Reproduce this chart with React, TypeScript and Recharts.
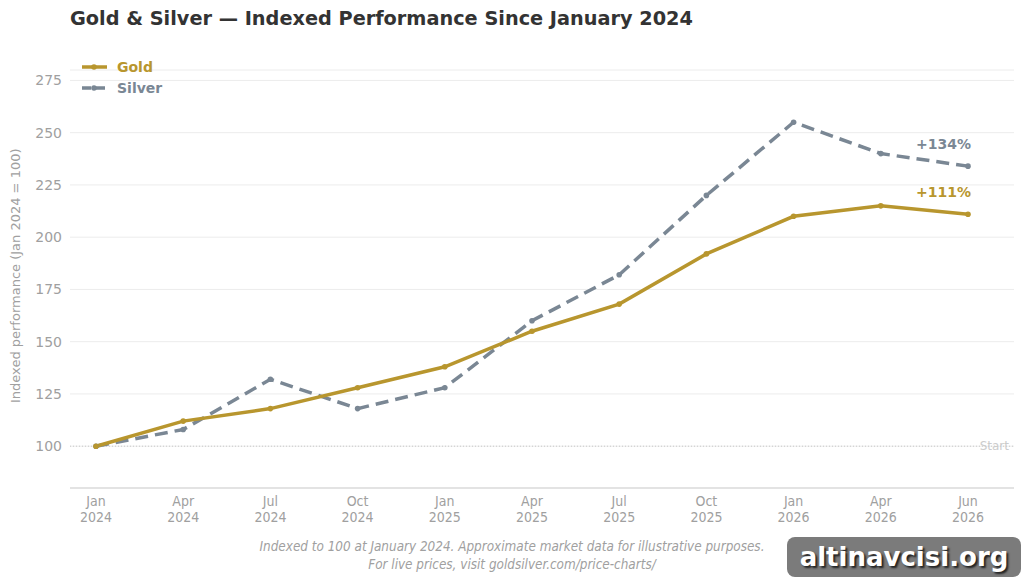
import React from "react";
import {
  LineChart,
  Line,
  XAxis,
  YAxis,
  CartesianGrid,
  ReferenceLine,
  LabelList,
} from "recharts";

const categories = [
  "Jan 2024", "Apr 2024", "Jul 2024", "Oct 2024", "Jan 2025", "Apr 2025",
  "Jul 2025", "Oct 2025", "Jan 2026", "Apr 2026", "Jun 2026",
];
const goldValues = [100, 112, 118, 128, 138, 155, 168, 192, 210, 215, 211];
const silverValues = [100, 108, 132, 118, 128, 160, 182, 220, 255, 240, 234];
const yTicks = [100, 125, 150, 175, 200, 225, 250, 275];
const seriesNames = ["Gold", "Silver"];

const GOLD = "#B8962E";
const SILVER = "#7A8794";

const data = categories.map((c, i) => ({
  month: c,
  gold: goldValues[i],
  silver: silverValues[i],
}));

const XTick = (props: any) => {
  const { x, y, payload } = props;
  const [m, yr] = String(payload.value).split(" ");
  return (
    <g transform={`translate(${x},${y})`}>
      <text
        textAnchor="middle"
        fill="#a0a0a0"
        fontSize={14}
        fontFamily="'DejaVu Sans Condensed', 'DejaVu Sans', sans-serif"
        fontStretch="condensed"
      >
        <tspan x={0} dy={10}>{m}</tspan>
        <tspan x={0} dy={16}>{yr}</tspan>
      </text>
    </g>
  );
};

const makeEndLabel = (color: string, lastIndex: number) => (props: any) => {
  const { x, y, index, value } = props;
  if (index !== lastIndex) return null;
  return (
    <text
      x={x + 3}
      y={y - 17}
      textAnchor="end"
      fill={color}
      fontSize={14}
      fontWeight="bold"
      fontFamily="'DejaVu Sans', sans-serif"
    >
      {`+${value - 100}%`}
    </text>
  );
};

const LegendBox = () => {
  const items = [
    { name: seriesNames[0], color: GOLD, dash: undefined },
    { name: seriesNames[1], color: SILVER, dash: "9 5" },
  ];
  return (
    <div style={{ position: "absolute", left: 80, top: 56, fontFamily: "'DejaVu Sans', sans-serif" }}>
      {items.map((it) => (
        <div key={it.name} style={{ display: "flex", alignItems: "center", height: 21 }}>
          <svg width={29} height={10} style={{ marginRight: 8 }}>
            <line
              x1={2}
              y1={5}
              x2={27}
              y2={5}
              stroke={it.color}
              strokeWidth={3.5}
              strokeDasharray={it.dash}
            />
            <circle cx={14} cy={5} r={2.8} fill={it.color} />
          </svg>
          <span style={{ color: it.color, fontWeight: "bold", fontSize: 14 }}>{it.name}</span>
        </div>
      ))}
    </div>
  );
};

export default function App() {
  return (
    <div
      style={{
        position: "absolute",
        left: 0,
        top: 0,
        width: 1024,
        height: 583,
        background: "#fff",
        fontFamily: "'DejaVu Sans', sans-serif",
        overflow: "hidden",
      }}
    >
      <div
        style={{
          position: "absolute",
          left: 70,
          top: 7,
          fontSize: 19.3,
          fontWeight: "bold",
          color: "#333",
        }}
      >
        Gold &amp; Silver — Indexed Performance Since January 2024
      </div>
      <LineChart
        width={1024}
        height={583}
        data={data}
        margin={{ top: 70, right: 10, bottom: 65, left: 0 }}
      >
        <CartesianGrid vertical={false} stroke="#ececec" strokeWidth={1} />
        <XAxis
          dataKey="month"
          height={30}
          padding={{ left: 26, right: 46 }}
          tickLine={false}
          axisLine={{ stroke: "#dddddd", strokeWidth: 1.5 }}
          tick={<XTick />}
          interval={0}
        />
        <YAxis
          width={70}
          domain={[80, 280]}
          ticks={yTicks}
          axisLine={false}
          tickLine={false}
          tick={{ fill: "#a0a0a0", fontSize: 14, fontFamily: "'DejaVu Sans', sans-serif" }}
          label={{
            value: "Indexed performance (Jan 2024 = 100)",
            angle: -90,
            position: "insideLeft",
            dx: 10,
            dy: 124,
            style: { fill: "#a0a0a0", fontSize: 13, fontFamily: "'DejaVu Sans', sans-serif" },
          }}
        />
        <ReferenceLine
          y={100}
          stroke="#c8c8c8"
          strokeDasharray="1 2"
          label={{
            value: "Start",
            position: "insideRight",
            fill: "#cccccc",
            fontSize: 12,
          }}
        />
        <Line
          type="linear"
          dataKey="silver"
          name="Silver"
          stroke={SILVER}
          strokeWidth={3.5}
          strokeDasharray="13 7"
          dot={{ r: 2.8, fill: SILVER, stroke: SILVER, strokeWidth: 0 }}
          isAnimationActive={false}
        >
          <LabelList dataKey="silver" content={makeEndLabel(SILVER, categories.length - 1)} />
        </Line>
        <Line
          type="linear"
          dataKey="gold"
          name="Gold"
          stroke={GOLD}
          strokeWidth={3.5}
          dot={{ r: 2.8, fill: GOLD, stroke: GOLD, strokeWidth: 0 }}
          isAnimationActive={false}
        >
          <LabelList dataKey="gold" content={makeEndLabel(GOLD, categories.length - 1)} />
        </Line>
      </LineChart>
      <LegendBox />
      <div
        style={{
          position: "absolute",
          left: 0,
          width: 1024,
          top: 538,
          textAlign: "center",
          fontSize: 13.4,
          fontStyle: "italic",
          color: "#a0a0a0",
          lineHeight: "18px",
          fontFamily: "'DejaVu Sans Condensed', 'DejaVu Sans', sans-serif",
          fontStretch: "condensed",
        }}
      >
        <div>Indexed to 100 at January 2024. Approximate market data for illustrative purposes.</div>
        <div>For live prices, visit goldsilver.com/price-charts/</div>
      </div>
      <div
        style={{
          position: "absolute",
          left: 787,
          top: 537,
          width: 234,
          height: 40,
          borderRadius: 8,
          background: "#7b7b7b",
          color: "#fff",
          fontWeight: "bold",
          fontSize: 26,
          display: "flex",
          alignItems: "center",
          justifyContent: "center",
          textShadow: "2px 2px 2px #222",
          fontFamily: "'DejaVu Sans', sans-serif",
        }}
      >
        altinavcisi.org
      </div>
    </div>
  );
}
